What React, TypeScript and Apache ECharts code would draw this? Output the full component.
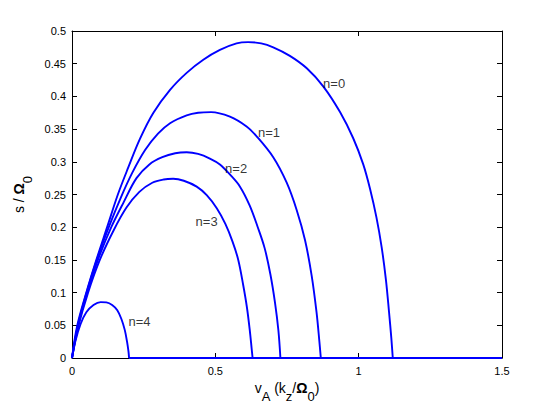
import React, { useEffect, useRef } from 'react';
import * as echarts from 'echarts';

const xTicks = [0, 0.5, 1, 1.5];
const yTicks = [0, 0.05, 0.1, 0.15, 0.2, 0.25, 0.3, 0.35, 0.4, 0.45, 0.5];
const xMax = 1.5;

const curveN0: [number, number][] = [
  [0, 0], [0.018, 0.049], [0.05, 0.1], [0.085, 0.15], [0.124, 0.202], [0.16, 0.25],
  [0.196, 0.291], [0.237, 0.335], [0.284, 0.375], [0.342, 0.41], [0.4, 0.436],
  [0.458, 0.456], [0.516, 0.471], [0.574, 0.481], [0.614, 0.483], [0.66, 0.481],
  [0.702, 0.475], [0.76, 0.462], [0.819, 0.443], [0.877, 0.415], [0.935, 0.376],
  [0.981, 0.336], [1.016, 0.296], [1.04, 0.258], [1.062, 0.215], [1.08, 0.17],
  [1.095, 0.12], [1.106, 0.07], [1.114, 0.03], [1.119, 0],
];
const curveN1: [number, number][] = [
  [0, 0], [0.02, 0.049], [0.051, 0.1], [0.088, 0.152], [0.13, 0.202], [0.17, 0.245],
  [0.21, 0.283], [0.255, 0.318], [0.3, 0.343], [0.342, 0.359], [0.4, 0.371],
  [0.44, 0.375], [0.485, 0.376], [0.551, 0.369], [0.609, 0.354], [0.644, 0.339],
  [0.702, 0.307], [0.749, 0.268], [0.784, 0.226], [0.813, 0.18], [0.836, 0.126],
  [0.853, 0.07], [0.863, 0.025], [0.868, 0],
];
const curveN2: [number, number][] = [
  [0, 0], [0.021, 0.049], [0.053, 0.1], [0.092, 0.152], [0.137, 0.2], [0.18, 0.238],
  [0.225, 0.275], [0.27, 0.296], [0.315, 0.307], [0.36, 0.313], [0.4, 0.3145],
  [0.44, 0.312], [0.481, 0.305], [0.516, 0.296], [0.55, 0.281], [0.586, 0.262],
  [0.62, 0.233], [0.648, 0.2], [0.672, 0.168], [0.692, 0.128], [0.708, 0.085],
  [0.72, 0.042], [0.727, 0],
];
const curveN3: [number, number][] = [
  [0, 0], [0.022, 0.048], [0.056, 0.1], [0.097, 0.15], [0.145, 0.195], [0.19, 0.23],
  [0.235, 0.254], [0.28, 0.268], [0.32, 0.273], [0.353, 0.274], [0.39, 0.271],
  [0.435, 0.262], [0.47, 0.249], [0.505, 0.229], [0.535, 0.205], [0.56, 0.178],
  [0.58, 0.15], [0.597, 0.112], [0.61, 0.078], [0.62, 0.043], [0.627, 0.013], [0.63, 0],
];
const curveN4: [number, number][] = [
  [0, 0], [0.012, 0.026], [0.03, 0.052], [0.05, 0.07], [0.075, 0.081], [0.1, 0.0855],
  [0.12, 0.085], [0.14, 0.081], [0.158, 0.073], [0.172, 0.06], [0.184, 0.043],
  [0.192, 0.025], [0.197, 0.01], [0.199, 0],
];

const curves = [curveN0, curveN1, curveN2, curveN3, curveN4];
const curveNames = ['n=0', 'n=1', 'n=2', 'n=3', 'n=4'];
const labelAnchors: [number, number][] = [
  [0.876, 0.42], [0.649, 0.345], [0.534, 0.29], [0.431, 0.208], [0.197, 0.0555],
];

const FONT = '"Liberation Sans", Arial, Helvetica, sans-serif';
const BLUE = '#0000ff';

export default function App() {
  const ref = useRef<HTMLDivElement>(null);
  useEffect(() => {
    if (!ref.current) return;
    const chart = echarts.init(ref.current, null, { renderer: 'svg' });
    const series: any[] = [];
    curves.forEach((c, i) => {
      series.push({
        type: 'line',
        name: curveNames[i],
        data: c,
        smooth: 0.35,
        showSymbol: false,
        symbol: 'none',
        lineStyle: { color: BLUE, width: 1.9 },
        xAxisIndex: 0,
        yAxisIndex: 0,
      });
      const last = c[c.length - 1];
      series.push({
        type: 'line',
        data: [[last[0], 0], [xMax, 0]],
        showSymbol: false,
        symbol: 'none',
        lineStyle: { color: BLUE, width: 1.9 },
      });
    });
    series.push({
      type: 'scatter',
      symbolSize: 0,
      data: labelAnchors.map((p, i) => ({ name: curveNames[i], value: p })),
      label: {
        show: true,
        position: 'right',
        distance: 0,
        formatter: '{b}',
        color: '#000',
        fontSize: 13,
        fontFamily: FONT,
      },
      z: 5,
    });

    const axisCommon = {
      type: 'value',
      splitLine: { show: false },
      axisLine: { show: true, onZero: false, lineStyle: { color: '#000', width: 1 } },
    };
    const rich = {
      m: { fontSize: 14, fontFamily: FONT, color: '#000', lineHeight: 22, verticalAlign: 'top' },
      b: { fontSize: 14, fontFamily: FONT, color: '#000', fontWeight: 'bold', lineHeight: 22, verticalAlign: 'top' },
      s: { fontSize: 13, fontFamily: FONT, color: '#000', lineHeight: 22, verticalAlign: 'bottom' },
    };

    chart.setOption({
      animation: false,
      backgroundColor: '#fff',
      grid: { left: 72, right: 53, top: 31, bottom: 45, containLabel: false, outerBoundsMode: 'none' },
      xAxis: [
        {
          ...axisCommon,
          min: 0,
          max: xMax,
          interval: 0.5,
          position: 'bottom',
          axisTick: { show: true, inside: true, length: 5, customValues: xTicks, lineStyle: { color: '#000' } },
          axisLabel: { customValues: xTicks, color: '#000', fontSize: 11, fontFamily: FONT, margin: 7 },
          name: '{m|v}{s|A}{m| (k}{s|z}{m|/}{b|Ω}{s|0}{m|)}',
          nameLocation: 'middle',
          nameGap: 23,
          nameTextStyle: { rich },
        },
        {
          ...axisCommon,
          min: 0,
          max: xMax,
          interval: 0.5,
          position: 'top',
          axisTick: { show: true, inside: true, length: 5, customValues: xTicks, lineStyle: { color: '#000' } },
          axisLabel: { show: false },
        },
      ],
      yAxis: [
        {
          ...axisCommon,
          min: 0,
          max: 0.5,
          interval: 0.05,
          position: 'left',
          axisTick: { show: true, inside: true, length: 5, customValues: yTicks, lineStyle: { color: '#000' } },
          axisLabel: { customValues: yTicks, color: '#000', fontSize: 11, fontFamily: FONT, margin: 6 },
          name: '{m|s / }{b|Ω}{s|0}',
          nameLocation: 'middle',
          nameGap: 36,
          nameTextStyle: { rich },
        },
        {
          ...axisCommon,
          min: 0,
          max: 0.5,
          interval: 0.05,
          position: 'right',
          axisTick: { show: true, inside: true, length: 5, customValues: yTicks, lineStyle: { color: '#000' } },
          axisLabel: { show: false },
        },
      ],
      series,
    });
    return () => chart.dispose();
  }, []);
  return (
    <div
      ref={ref}
      style={{ position: 'fixed', left: 0, top: 0, width: 555, height: 403, background: '#fff' }}
    />
  );
}
